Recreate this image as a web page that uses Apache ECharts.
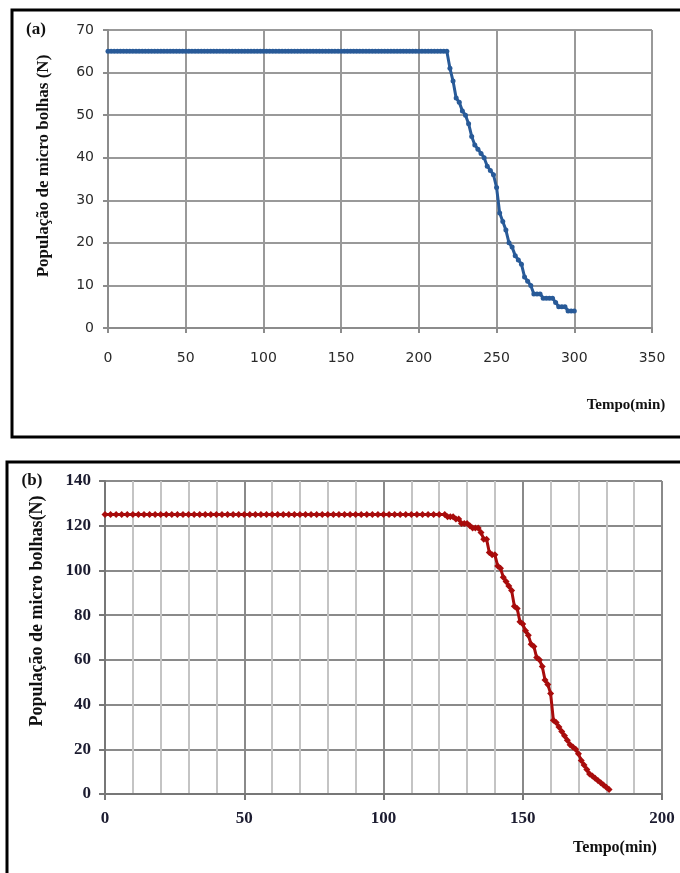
<!DOCTYPE html>
<html>
<head>
<meta charset="utf-8">
<script src="https://cdn.jsdelivr.net/npm/echarts@6/dist/echarts.min.js"></script>
<style>
  html, body { margin: 0; padding: 0; background: #fff; }
  #chart { width: 680px; height: 873px; }
</style>
</head>
<body>
<div id="chart"></div>
<script>
// (a) time in minutes and bubble count
const timeA = [
  0, 2, 4, 6, 8, 10, 12, 14, 16, 18, 20, 22, 24, 26, 28, 30, 32, 34, 36, 38,
  40, 42, 44, 46, 48, 50, 52, 54, 56, 58, 60, 62, 64, 66, 68, 70, 72, 74, 76, 78,
  80, 82, 84, 86, 88, 90, 92, 94, 96, 98, 100, 102, 104, 106, 108, 110, 112, 114, 116, 118,
  120, 122, 124, 126, 128, 130, 132, 134, 136, 138, 140, 142, 144, 146, 148, 150, 152, 154, 156, 158,
  160, 162, 164, 166, 168, 170, 172, 174, 176, 178, 180, 182, 184, 186, 188, 190, 192, 194, 196, 198,
  200, 202, 204, 206, 208, 210, 212, 214, 216, 218,
  220, 222, 224, 226, 228, 230, 232, 234, 236, 238, 240, 242, 244, 246, 248, 250, 252, 254, 256, 258,
  260, 262, 264, 266, 268, 270, 272, 274, 276, 278, 280, 282, 284, 286, 288, 290, 292, 294, 296, 298, 300
];
const popA = [
  65, 65, 65, 65, 65, 65, 65, 65, 65, 65, 65, 65, 65, 65, 65, 65, 65, 65, 65, 65,
  65, 65, 65, 65, 65, 65, 65, 65, 65, 65, 65, 65, 65, 65, 65, 65, 65, 65, 65, 65,
  65, 65, 65, 65, 65, 65, 65, 65, 65, 65, 65, 65, 65, 65, 65, 65, 65, 65, 65, 65,
  65, 65, 65, 65, 65, 65, 65, 65, 65, 65, 65, 65, 65, 65, 65, 65, 65, 65, 65, 65,
  65, 65, 65, 65, 65, 65, 65, 65, 65, 65, 65, 65, 65, 65, 65, 65, 65, 65, 65, 65,
  65, 65, 65, 65, 65, 65, 65, 65, 65, 65,
  61, 58, 54, 53, 51, 50, 48, 45, 43, 42, 41, 40, 38, 37, 36, 33, 27, 25, 23, 20,
  19, 17, 16, 15, 12, 11, 10, 8, 8, 8, 7, 7, 7, 7, 6, 5, 5, 5, 4, 4, 4
];

// (b) time in minutes and bubble count
const timeB = [
  0, 2, 4, 6, 8, 10, 12, 14, 16, 18, 20, 22, 24, 26, 28, 30, 32, 34, 36, 38,
  40, 42, 44, 46, 48, 50, 52, 54, 56, 58, 60, 62, 64, 66, 68, 70, 72, 74, 76, 78,
  80, 82, 84, 86, 88, 90, 92, 94, 96, 98, 100, 102, 104, 106, 108, 110, 112, 114, 116, 118,
  120, 122,
  123, 124, 125, 126, 127, 128, 129, 130, 131, 132, 133, 134, 135, 136, 137, 138, 139, 140, 141, 142,
  143, 144, 145, 146, 147, 148, 149, 150, 151, 152, 153, 154, 155, 156, 157, 158, 159, 160, 161, 162,
  163, 164, 165, 166, 167, 168, 169, 170, 171, 172, 173, 174, 175, 176, 177, 178, 179, 180, 181
];
const popB = [
  125, 125, 125, 125, 125, 125, 125, 125, 125, 125, 125, 125, 125, 125, 125, 125, 125, 125, 125, 125,
  125, 125, 125, 125, 125, 125, 125, 125, 125, 125, 125, 125, 125, 125, 125, 125, 125, 125, 125, 125,
  125, 125, 125, 125, 125, 125, 125, 125, 125, 125, 125, 125, 125, 125, 125, 125, 125, 125, 125, 125,
  125, 125,
  124, 124, 124, 123, 123, 121, 121, 121, 120, 119, 119, 119, 117, 114, 114, 108, 107, 107, 102, 101,
  97, 95, 93, 91, 84, 83, 77, 76, 73, 71, 67, 66, 61, 60, 57, 51, 49, 45, 33, 32,
  30, 28, 26, 24, 22, 21, 20, 18, 15, 13, 11, 9, 8, 7, 6, 5, 4, 3, 2
];

const yTitle = "População de micro bolhas";
const xTitle = "Tempo(min)";

const chart = echarts.init(document.getElementById("chart"));

const serif = "Liberation Serif";

function pairs(xs, ys) {
  return xs.map((x, i) => [x, ys[i]]);
}

chart.setOption({
  animation: false,
  backgroundColor: "#fff",
  grid: [
    { left: 108, top: 30, width: 544, height: 298 },
    { left: 105, top: 481, width: 557, height: 313 }
  ],
  xAxis: [
    {
      gridIndex: 0, type: "value", min: 0, max: 350, interval: 50,
      axisLine: { show: true, lineStyle: { color: "#8c8c8c", width: 2 } },
      axisTick: { show: true, length: 5, lineStyle: { color: "#8c8c8c", width: 2 } },
      axisLabel: { margin: 23, color: "#2a2a2a", fontFamily: "DejaVu Sans", fontSize: 14 },
      splitLine: { show: true, lineStyle: { color: "#999", width: 2 } }
    },
    {
      gridIndex: 1, type: "value", min: 0, max: 200, interval: 50,
      axisLine: { show: true, lineStyle: { color: "#777", width: 2 } },
      axisTick: { show: true, length: 6, lineStyle: { color: "#777", width: 2 } },
      axisLabel: { margin: 16, color: "#1c1c30", fontFamily: serif, fontWeight: "bold", fontSize: 17 },
      splitLine: { show: true, lineStyle: { color: "#8a8a8a", width: 2 } },
      minorTick: { show: false, splitNumber: 5 },
      minorSplitLine: { show: true, lineStyle: { color: "#c4c4c4", width: 2 } }
    }
  ],
  yAxis: [
    {
      gridIndex: 0, type: "value", min: 0, max: 70, interval: 10,
      axisLine: { show: true, lineStyle: { color: "#8c8c8c", width: 2 } },
      axisTick: { show: true, length: 5, lineStyle: { color: "#8c8c8c", width: 2 } },
      axisLabel: { margin: 14, color: "#2a2a2a", fontFamily: "DejaVu Sans", fontSize: 14 },
      splitLine: { show: true, lineStyle: { color: "#999", width: 2 } }
    },
    {
      gridIndex: 1, type: "value", min: 0, max: 140, interval: 20,
      axisLine: { show: true, lineStyle: { color: "#777", width: 2 } },
      axisTick: { show: true, length: 6, lineStyle: { color: "#777", width: 2 } },
      axisLabel: { margin: 14, color: "#1c1c30", fontFamily: serif, fontWeight: "bold", fontSize: 17 },
      splitLine: { show: true, lineStyle: { color: "#8a8a8a", width: 2 } }
    }
  ],
  series: [
    {
      type: "line", xAxisIndex: 0, yAxisIndex: 0,
      data: pairs(timeA, popA),
      symbol: "circle", symbolSize: 5, showSymbol: true,
      lineStyle: { color: "#285a98", width: 3 },
      itemStyle: { color: "#285a98" }
    },
    {
      type: "line", xAxisIndex: 1, yAxisIndex: 1,
      data: pairs(timeB, popB),
      symbol: "diamond", symbolSize: 7, showSymbol: true,
      lineStyle: { color: "#a80c0c", width: 3 },
      itemStyle: { color: "#a80c0c" }
    }
  ],
  graphic: [
    { type: "rect", shape: { x: 12, y: 10, width: 720, height: 427 },
      style: { fill: "none", stroke: "#000", lineWidth: 3 } },
    { type: "rect", shape: { x: 7, y: 462, width: 720, height: 440 },
      style: { fill: "none", stroke: "#000", lineWidth: 3 } },
    { type: "text", x: 36, y: 30,
      style: { text: "(a)", font: "bold 17px 'Liberation Serif'", fill: "#111", align: "center", verticalAlign: "middle" } },
    { type: "text", x: 32, y: 481,
      style: { text: "(b)", font: "bold 17px 'Liberation Serif'", fill: "#111", align: "center", verticalAlign: "middle" } },
    { type: "text", x: 44, y: 166, rotation: Math.PI / 2,
      style: { text: yTitle + " (N)", font: "bold 17px 'Liberation Serif'", fill: "#111", align: "center", verticalAlign: "middle" } },
    { type: "text", x: 37, y: 611, rotation: Math.PI / 2,
      style: { text: yTitle + "(N)", font: "bold 18px 'Liberation Serif'", fill: "#111", align: "center", verticalAlign: "middle" } },
    { type: "text", x: 626, y: 405,
      style: { text: xTitle, font: "bold 15px 'Liberation Serif'", fill: "#111", align: "center", verticalAlign: "middle" } },
    { type: "text", x: 615, y: 848,
      style: { text: xTitle, font: "bold 16px 'Liberation Serif'", fill: "#111", align: "center", verticalAlign: "middle" } }
  ]
});
</script>
</body>
</html>
